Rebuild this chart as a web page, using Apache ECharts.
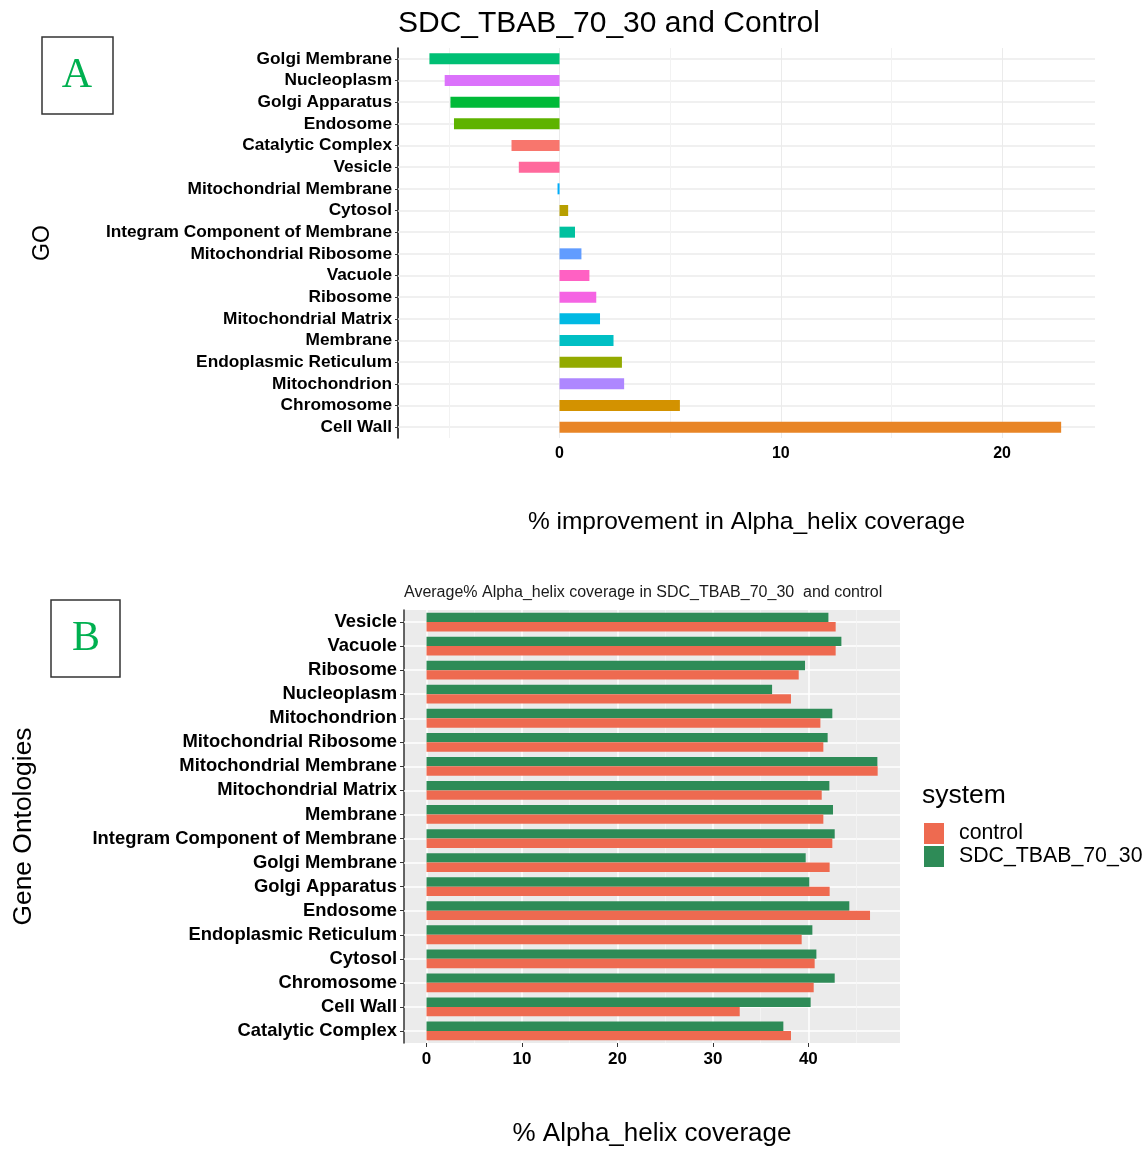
<!DOCTYPE html>
<html>
<head>
<meta charset="utf-8">
<script src="https://cdn.jsdelivr.net/npm/echarts@6/dist/echarts.min.js"></script>
<style>
  html, body { margin: 0; padding: 0; background: #ffffff; }
  #chart { width: 1147px; height: 1151px; }
</style>
</head>
<body>
<div id="chart"></div>
<script>
// Panel A: relative change in alpha-helix coverage per gene ontology term
const goTermsA = ['Golgi Membrane', 'Nucleoplasm', 'Golgi Apparatus', 'Endosome', 'Catalytic Complex',
  'Vesicle', 'Mitochondrial Membrane', 'Cytosol', 'Integram Component of Membrane', 'Mitochondrial Ribosome',
  'Vacuole', 'Ribosome', 'Mitochondrial Matrix', 'Membrane', 'Endoplasmic Reticulum', 'Mitochondrion',
  'Chromosome', 'Cell Wall'];
const improvement = [-5.88, -5.19, -4.93, -4.77, -2.17, -1.84, -0.09, 0.39, 0.70, 0.99,
  1.35, 1.66, 1.83, 2.44, 2.82, 2.92, 5.44, 22.67];
const ticksA = [0, 10, 20];
const minorTicksA = [-5, 5, 15];

// Panel B: average alpha-helix coverage per term and system
const goTermsB = ['Vesicle', 'Vacuole', 'Ribosome', 'Nucleoplasm', 'Mitochondrion', 'Mitochondrial Ribosome',
  'Mitochondrial Membrane', 'Mitochondrial Matrix', 'Membrane', 'Integram Component of Membrane',
  'Golgi Membrane', 'Golgi Apparatus', 'Endosome', 'Endoplasmic Reticulum', 'Cytosol', 'Chromosome',
  'Cell Wall', 'Catalytic Complex'];
const controlCoverage = [42.86, 42.86, 38.99, 38.18, 41.26, 41.57, 47.26, 41.40, 41.57, 42.51,
  42.23, 42.23, 46.46, 39.30, 40.66, 40.56, 32.81, 38.18];
const sdcCoverage = [42.10, 43.46, 39.65, 36.20, 42.51, 42.02, 47.23, 42.20, 42.58, 42.76,
  39.72, 40.10, 44.29, 40.42, 40.84, 42.76, 40.24, 37.38];
const ticksB = [0, 10, 20, 30, 40];
const minorTicksB = [5, 15, 25, 35, 45];
const systems = ['control', 'SDC_TBAB_70_30'];

// hue palette keyed by term (alphabetical hue order)
const termColors = {
  'Catalytic Complex': '#F8766D', 'Cell Wall': '#E88526', 'Chromosome': '#D39200', 'Cytosol': '#B79F00',
  'Endoplasmic Reticulum': '#93AA00', 'Endosome': '#5EB300', 'Golgi Apparatus': '#00BA38',
  'Golgi Membrane': '#00BF74', 'Integram Component of Membrane': '#00C19F', 'Membrane': '#00BFC4',
  'Mitochondrial Matrix': '#00B9E3', 'Mitochondrial Membrane': '#00ADFA', 'Mitochondrial Ribosome': '#619CFF',
  'Mitochondrion': '#AE87FF', 'Nucleoplasm': '#DB72FB', 'Ribosome': '#F564E3', 'Vacuole': '#FF61C3',
  'Vesicle': '#FF699C'
};
const systemColors = { 'control': '#EE6A50', 'SDC_TBAB_70_30': '#2E8B57' };

const FONT = '"Liberation Sans", Arial, sans-serif';

function gridLines(xVals, xStyle, yVals, yStyle) {
  const data = [];
  xVals.forEach(v => data.push({ xAxis: v, lineStyle: xStyle }));
  yVals.forEach(v => data.push({ yAxis: v, lineStyle: yStyle }));
  return data;
}

const chart = echarts.init(document.getElementById('chart'), null, { renderer: 'canvas' });

chart.setOption({
  animation: false,
  backgroundColor: '#ffffff',
  textStyle: { fontFamily: FONT },
  title: [
    { text: 'SDC_TBAB_70_30 and Control', left: 393, top: 4,
      textStyle: { fontFamily: FONT, fontSize: 30, fontWeight: 'normal', color: '#000' } },
    { text: 'Average% Alpha_helix coverage in SDC_TBAB_70_30  and control', left: 399, top: 580,
      textStyle: { fontFamily: FONT, fontSize: 16, fontWeight: 'normal', color: '#1a1a1a' } },
    { text: 'system', left: 917, top: 777,
      textStyle: { fontFamily: FONT, fontSize: 26.5, fontWeight: 'normal', color: '#000' } }
  ],
  legend: {
    data: systems, orient: 'vertical', left: 924, top: 823,
    icon: 'rect', itemWidth: 20, itemHeight: 21, itemGap: 2, padding: 0,
    textStyle: { fontFamily: FONT, fontSize: 21.3, color: '#000', padding: [0, 0, 0, 10] }
  },
  graphic: [
    { type: 'rect', shape: { x: 42, y: 37, width: 71, height: 77 },
      style: { fill: '#fff', stroke: '#333', lineWidth: 1.5 } },
    { type: 'text', x: 77, y: 76,
      style: { text: 'A', font: '42px "Liberation Serif", serif', fill: '#00B050', align: 'center', verticalAlign: 'middle' } },
    { type: 'rect', shape: { x: 51, y: 600, width: 69, height: 77 },
      style: { fill: '#fff', stroke: '#333', lineWidth: 1.5 } },
    { type: 'text', x: 86, y: 639,
      style: { text: 'B', font: '42px "Liberation Serif", serif', fill: '#00B050', align: 'center', verticalAlign: 'middle' } }
  ],
  grid: [
    { left: 398, right: 52, top: 48, height: 390, containLabel: false },
    { left: 404, right: 247, top: 610, height: 433, containLabel: false,
      show: true, backgroundColor: '#EBEBEB', borderWidth: 0 }
  ],
  xAxis: [
    { gridIndex: 0, type: 'value', min: -7.3, max: 24.2,
      name: '% improvement in Alpha_helix coverage', nameLocation: 'middle', nameGap: 72,
      nameTextStyle: { fontFamily: FONT, fontSize: 24.5, color: '#000' },
      axisLine: { show: false }, axisTick: { show: false }, splitLine: { show: false },
      axisLabel: { customValues: ticksA, margin: 8, fontFamily: FONT, fontSize: 16, fontWeight: 'bold', color: '#000' } },
    { gridIndex: 1, type: 'value', min: -2.36, max: 49.6,
      name: '% Alpha_helix coverage', nameLocation: 'middle', nameGap: 78,
      nameTextStyle: { fontFamily: FONT, fontSize: 26, color: '#000' },
      axisLine: { show: false },
      axisTick: { show: true, customValues: ticksB, length: 4, lineStyle: { color: '#333', width: 1 } },
      splitLine: { show: false },
      axisLabel: { customValues: ticksB, margin: 8, fontFamily: FONT, fontSize: 17, fontWeight: 'bold', color: '#000' } }
  ],
  yAxis: [
    { gridIndex: 0, type: 'category', data: goTermsA, inverse: true,
      name: 'GO', nameLocation: 'middle', nameGap: 344,
      nameTextStyle: { fontFamily: FONT, fontSize: 23, color: '#000' },
      axisLine: { show: true, onZero: false, lineStyle: { color: '#000', width: 1.5 } },
      axisTick: { show: true, alignWithLabel: true, interval: 0, length: 3, lineStyle: { color: '#333' } },
      splitLine: { show: false },
      axisLabel: { interval: 0, margin: 6, fontFamily: FONT, fontSize: 17.3, fontWeight: 'bold', color: '#000' } },
    { gridIndex: 1, type: 'category', data: goTermsB, inverse: true,
      name: 'Gene Ontologies', nameLocation: 'middle', nameGap: 367,
      nameTextStyle: { fontFamily: FONT, fontSize: 26.4, color: '#000' },
      axisLine: { show: true, onZero: false, lineStyle: { color: '#333', width: 1.5 } },
      axisTick: { show: true, alignWithLabel: true, interval: 0, length: 4, lineStyle: { color: '#333' } },
      splitLine: { show: false },
      axisLabel: { interval: 0, margin: 7, fontFamily: FONT, fontSize: 18.4, fontWeight: 'bold', color: '#000' } }
  ],
  series: [
    // panel A gridlines
    { type: 'line', xAxisIndex: 0, yAxisIndex: 0, data: [], silent: true,
      markLine: { silent: true, z: 1, symbol: ['none', 'none'], label: { show: false },
        data: gridLines(ticksA, { color: '#EBEBEB', width: 1, type: 'solid' }, goTermsA, { color: '#EBEBEB', width: 1.5, type: 'solid' })
          .concat(minorTicksA.map(v => ({ xAxis: v, lineStyle: { color: '#F2F2F2', width: 1, type: 'solid' } }))) } },
    // panel A bars
    { type: 'bar', name: 'improvement', xAxisIndex: 0, yAxisIndex: 0, z: 3, barWidth: 11,
      data: improvement.map((v, i) => ({ value: v, itemStyle: { color: termColors[goTermsA[i]] } })) },
    // panel B gridlines
    { type: 'line', xAxisIndex: 1, yAxisIndex: 1, data: [], silent: true,
      markLine: { silent: true, z: 1, symbol: ['none', 'none'], label: { show: false },
        data: gridLines(ticksB, { color: '#ffffff', width: 1.5, type: 'solid' }, goTermsB, { color: '#ffffff', width: 1.5, type: 'solid' })
          .concat(minorTicksB.map(v => ({ xAxis: v, lineStyle: { color: '#F5F5F5', width: 0.8, type: 'solid' } }))) } },
    // panel B bars
    { type: 'bar', name: 'SDC_TBAB_70_30', xAxisIndex: 1, yAxisIndex: 1, z: 3, barWidth: 9.4, barGap: '0%',
      itemStyle: { color: systemColors['SDC_TBAB_70_30'] }, data: sdcCoverage },
    { type: 'bar', name: 'control', xAxisIndex: 1, yAxisIndex: 1, z: 3, barWidth: 9.4, barGap: '0%',
      itemStyle: { color: systemColors['control'] }, data: controlCoverage }
  ]
});
</script>
</body>
</html>
